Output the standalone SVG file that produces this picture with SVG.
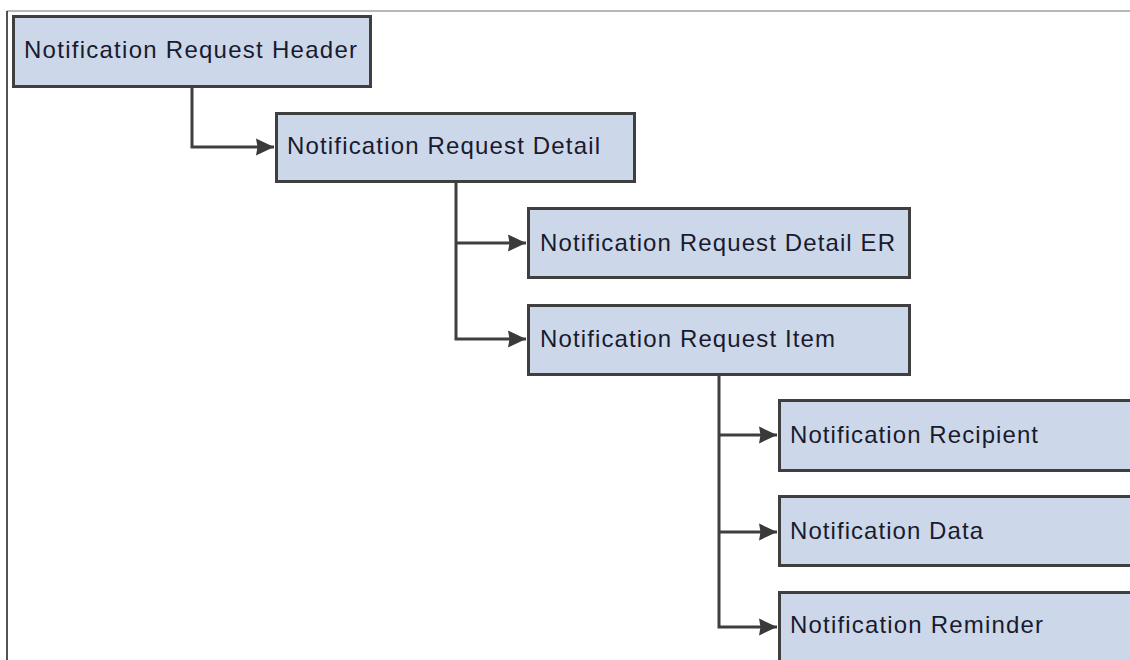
<svg xmlns="http://www.w3.org/2000/svg" width="1130" height="660" viewBox="0 0 1130 660">
<style>
.box{fill:#ccd8ea;stroke:#3f3f3f;stroke-width:3}
.lbl{font-family:"Liberation Sans",Arial,sans-serif;font-size:24px;fill:#1a1a2e}
.con{fill:none;stroke:#3f3f3f;stroke-width:3}
</style>
<defs>
<marker id="arr" markerUnits="userSpaceOnUse" markerWidth="20" markerHeight="20" refX="18" refY="9" orient="auto">
<path d="M0,0.5 L18,9 L0,17.5 L1.5,9 z" fill="#3a3a3a"/>
</marker>
</defs>
<rect width="1130" height="660" fill="#ffffff"/>
<line x1="7" y1="11" x2="1130" y2="11" stroke="#a0a0a0" stroke-width="1.5"/>
<line x1="7" y1="11" x2="7" y2="660" stroke="#1a1a1a" stroke-width="1.5"/>
<g id="connectors">
<path class="con" d="M192,88 V147 H274" marker-end="url(#arr)"/>
<path class="con" d="M456,183 V339 H526" marker-end="url(#arr)"/>
<path class="con" d="M456,243 H526" marker-end="url(#arr)"/>
<path class="con" d="M719,376 V627 H777" marker-end="url(#arr)"/>
<path class="con" d="M719,435 H777" marker-end="url(#arr)"/>
<path class="con" d="M719,532 H777" marker-end="url(#arr)"/>
</g>
<g id="header">
<rect class="box" x="13.5" y="16.5" width="357" height="70"/>
<text class="lbl" x="24" y="58" textLength="333" lengthAdjust="spacing">Notification Request Header</text>
</g>
<g id="detail">
<rect class="box" x="276.5" y="113.5" width="358" height="68"/>
<text class="lbl" x="287" y="154" textLength="313" lengthAdjust="spacing">Notification Request Detail</text>
</g>
<g id="detail-er">
<rect class="box" x="528.5" y="208.5" width="381" height="69"/>
<text class="lbl" x="540" y="251" textLength="355" lengthAdjust="spacing">Notification Request Detail ER</text>
</g>
<g id="item">
<rect class="box" x="528.5" y="305.5" width="381" height="69"/>
<text class="lbl" x="540" y="347" textLength="295" lengthAdjust="spacing">Notification Request Item</text>
</g>
<g id="recipient">
<rect class="box" x="779.5" y="400.5" width="400" height="70"/>
<text class="lbl" x="790" y="443" textLength="248" lengthAdjust="spacing">Notification Recipient</text>
</g>
<g id="data">
<rect class="box" x="779.5" y="496.5" width="400" height="69"/>
<text class="lbl" x="790" y="539" textLength="193" lengthAdjust="spacing">Notification Data</text>
</g>
<g id="reminder">
<rect class="box" x="779.5" y="592.5" width="400" height="100"/>
<text class="lbl" x="790" y="633" textLength="253" lengthAdjust="spacing">Notification Reminder</text>
</g>
</svg>
